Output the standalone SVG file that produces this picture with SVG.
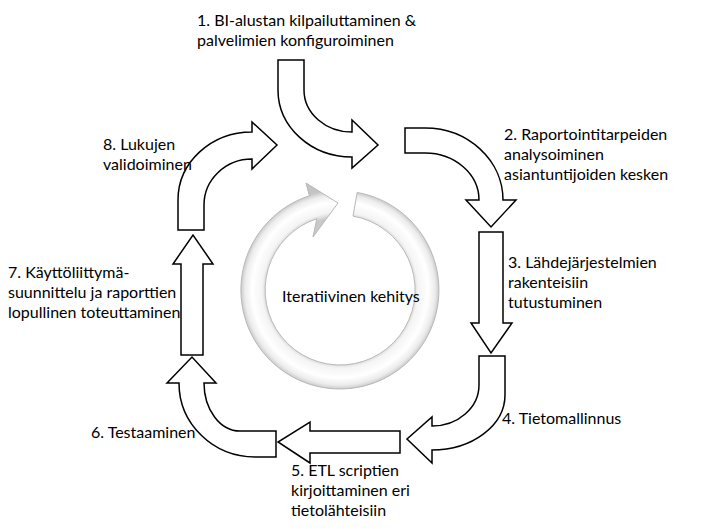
<svg xmlns="http://www.w3.org/2000/svg" width="711" height="529" viewBox="0 0 711 529">
<defs>
<style>
.t{font-family:Lato,"Liberation Sans",sans-serif;font-size:16px;fill:#000}
.a{fill:#fff;stroke:#000;stroke-width:1.5;stroke-linejoin:miter}
</style>
<radialGradient id="rg" gradientUnits="userSpaceOnUse" cx="340" cy="290" r="100">
<stop offset="0.72" stop-color="#c8c8c8"/>
<stop offset="0.78" stop-color="#f4f4f4"/>
<stop offset="0.88" stop-color="#ffffff"/>
<stop offset="0.95" stop-color="#ececec"/>
<stop offset="1" stop-color="#c4c4c4"/>
</radialGradient>
</defs>
<rect width="711" height="529" fill="#fff"/>
<g id="cycle">
<path d="M357.2,192.5 A99,99 0 1 1 309.4,195.8 L306,183 L338,203 L313,237 L316.8,218.7 A75,75 0 1 0 353,216.1 Z" fill="url(#rg)" stroke="#b8b8b8" stroke-width="1"/>
<text class="t" x="282" y="302">Iteratiivinen kehitys</text>
</g>
<g id="connectors">
<path id="a1" class="a" d="M278,60 L304,60 L304,90 A48,42 0 0 0 352,132 L352,120 L378,145 L352,168 L352,157 A74,67 0 0 1 278,90 Z"/>
<path id="a2" class="a" d="M405,128 L425,128 A78,72 0 0 1 503,200 L516,200 L491,227 L466,200 L479,200 A54,47 0 0 0 425,153 L405,153 Z"/>
<path id="a3" class="a" d="M479,232 L503,232 L503,323 L512,323 L491,353 L471,323 L479,323 Z"/>
<path id="a4" class="a" d="M479,356 L505,356 L505,395 A73,55 0 0 1 432,450 L432,463 L407,439 L432,417 L432,426 A47,41 0 0 0 479,385 Z"/>
<path id="a5" class="a" d="M400,431 L400,453 L310,453 L310,463 L278,442 L310,422 L310,431 Z"/>
<path id="a6" class="a" d="M276,431 L276,457 L255,457 A76,74 0 0 1 179,383 L167,383 L192,357 L216,383 L204,383 A36,48 0 0 0 240,431 Z"/>
<path id="a7" class="a" d="M181,355 L203,355 L203,264 L213,264 L193,235 L173,264 L181,264 Z"/>
<path id="a8" class="a" d="M178,230 L178,200 A74,68 0 0 1 252,132 L252,122 L277,145 L252,169 L252,159 A48,46 0 0 0 204,205 L204,230 Z"/>
</g>
<g id="n1"><text class="t" x="197" y="26">1. BI-alustan kilpailuttaminen &amp;</text><text class="t" x="197" y="46">palvelimien konfiguroiminen</text></g>
<g id="n2"><text class="t" x="504" y="140">2. Raportointitarpeiden</text><text class="t" x="504" y="160">analysoiminen</text><text class="t" x="504" y="180">asiantuntijoiden kesken</text></g>
<g id="n3"><text class="t" x="508" y="268">3. Lähdejärjestelmien</text><text class="t" x="508" y="288">rakenteisiin</text><text class="t" x="508" y="308">tutustuminen</text></g>
<g id="n4"><text class="t" x="502" y="424">4. Tietomallinnus</text></g>
<g id="n5"><text class="t" x="291" y="476">5. ETL scriptien</text><text class="t" x="291" y="496">kirjoittaminen eri</text><text class="t" x="291" y="516">tietolähteisiin</text></g>
<g id="n6"><text class="t" x="91" y="438">6. Testaaminen</text></g>
<g id="n7"><text class="t" x="8" y="278">7. Käyttöliittymä-</text><text class="t" x="8" y="298">suunnittelu ja raporttien</text><text class="t" x="8" y="318">lopullinen toteuttaminen</text></g>
<g id="n8"><text class="t" x="103" y="150">8. Lukujen</text><text class="t" x="103" y="170">validoiminen</text></g>
</svg>
